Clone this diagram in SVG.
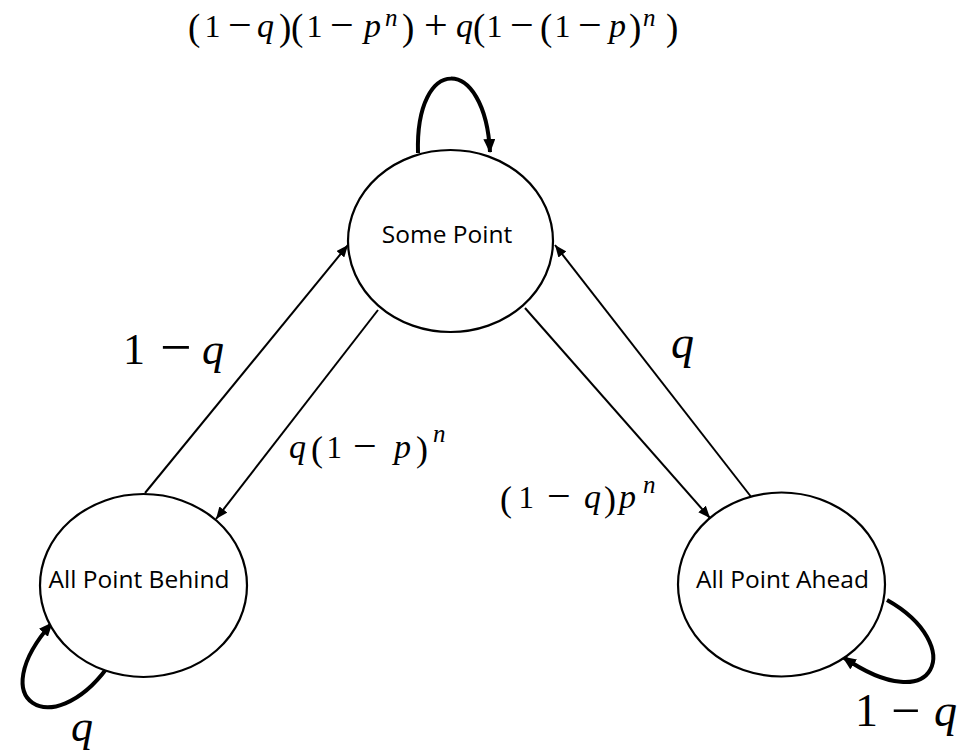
<svg xmlns="http://www.w3.org/2000/svg" width="961" height="756" viewBox="0 0 961 756">
<style>
.node{fill:#fff;stroke:#000;stroke-width:2.2}
.lbl{font-family:"Open Sans",sans-serif;font-size:24.5px;fill:#000;text-anchor:middle}
.edge{fill:none;stroke:#000;stroke-width:2}
.loop{fill:none;stroke:#000;stroke-width:4}
.m{font-family:"Liberation Serif",serif;fill:#000}
.i{font-style:italic}
</style>
<defs>
<marker id="arr" markerUnits="userSpaceOnUse" markerWidth="12" markerHeight="10" refX="12" refY="5" orient="auto">
<path d="M0,0 L12,5 L0,10 z" fill="#000"/>
</marker>
<marker id="arrL" markerUnits="userSpaceOnUse" markerWidth="14" markerHeight="12" refX="13" refY="6" orient="auto">
<path d="M0,0 L14,6 L0,12 z" fill="#000"/>
</marker>
</defs>
<rect width="961" height="756" fill="#fff"/>
<g id="connectors">
<line class="edge" x1="145" y1="493" x2="348" y2="245" marker-end="url(#arr)"/>
<line class="edge" x1="378" y1="310" x2="216" y2="519" marker-end="url(#arr)"/>
<line class="edge" x1="525" y1="308" x2="710" y2="518" marker-end="url(#arr)"/>
<line class="edge" x1="752" y1="498" x2="555" y2="245" marker-end="url(#arr)"/>
<path class="loop" d="M418,153 C415,54 485,54 490,152" marker-end="url(#arrL)"/>
<path class="loop" d="M107,668 C52,742 -18,702 52,623" marker-end="url(#arrL)"/>
<path class="loop" d="M887,600 C967,645 937,722 843,657" marker-end="url(#arrL)"/>
</g>
<g id="some-point">
<ellipse class="node" cx="450.5" cy="241" rx="102.5" ry="91"/>
<text class="lbl" x="447" y="243">Some Point</text>
</g>
<g id="all-point-behind">
<ellipse class="node" cx="143.5" cy="585.5" rx="103.5" ry="91.5"/>
<text class="lbl" x="139" y="588">All Point Behind</text>
</g>
<g id="all-point-ahead">
<ellipse class="node" cx="781.5" cy="584.5" rx="103.5" ry="92"/>
<text class="lbl" x="782.5" y="588">All Point Ahead</text>
</g>
<g id="edge-labels">
<text class="m" font-size="32" y="37"><tspan x="188" y="40" font-size="37">(</tspan><tspan x="204.5" y="37">1</tspan><tspan x="228" y="39" font-size="42">−</tspan><tspan x="257" y="37" class="i" font-size="34">q</tspan><tspan x="279" y="40" font-size="37">)</tspan><tspan x="291" y="40" font-size="37">(</tspan><tspan x="306.5" y="37">1</tspan><tspan x="330" y="39" font-size="42">−</tspan><tspan x="364" y="37" class="i" font-size="34">p</tspan><tspan x="385" y="26" class="i" font-size="25">n</tspan><tspan x="402" y="40" font-size="37">)</tspan><tspan x="424" y="39" font-size="42">+</tspan><tspan x="456" y="37" class="i" font-size="34">q</tspan><tspan x="473" y="40" font-size="37">(</tspan><tspan x="486.5" y="37">1</tspan><tspan x="510" y="39" font-size="42">−</tspan><tspan x="540" y="40" font-size="37">(</tspan><tspan x="554.5" y="37">1</tspan><tspan x="578" y="39" font-size="42">−</tspan><tspan x="609" y="37" class="i" font-size="34">p</tspan><tspan x="629" y="40" font-size="37">)</tspan><tspan x="643" y="26" class="i" font-size="25">n</tspan><tspan x="666" y="40" font-size="37">)</tspan></text>
<text class="m" font-size="44" y="364"><tspan x="123" y="364">1</tspan><tspan x="160" y="366" font-size="56">−</tspan><tspan x="202" y="364" class="i">q</tspan></text>
<text class="m" font-size="31" y="458"><tspan x="289" y="458" class="i" font-size="34">q</tspan><tspan x="311" y="461" font-size="36">(</tspan><tspan x="326.5" y="458">1</tspan><tspan x="353" y="460" font-size="42">−</tspan><tspan x="394" y="458" class="i" font-size="34">p</tspan><tspan x="416" y="461" font-size="36">)</tspan><tspan x="433" y="442" class="i" font-size="25">n</tspan></text>
<text class="m" font-size="31" y="508"><tspan x="500" y="511" font-size="36">(</tspan><tspan x="518.5" y="508">1</tspan><tspan x="547" y="510" font-size="42">−</tspan><tspan x="584" y="508" class="i" font-size="34">q</tspan><tspan x="604" y="511" font-size="36">)</tspan><tspan x="619" y="508" class="i" font-size="34">p</tspan><tspan x="643" y="493" class="i" font-size="25">n</tspan></text>
<text class="m i" font-size="46" x="671" y="358">q</text>
<text class="m i" font-size="44" x="71" y="741">q</text>
<text class="m" font-size="46" y="726"><tspan x="855" y="726">1</tspan><tspan x="891" y="728" font-size="52">−</tspan><tspan x="934" y="726" class="i">q</tspan></text>
</g>
</svg>
